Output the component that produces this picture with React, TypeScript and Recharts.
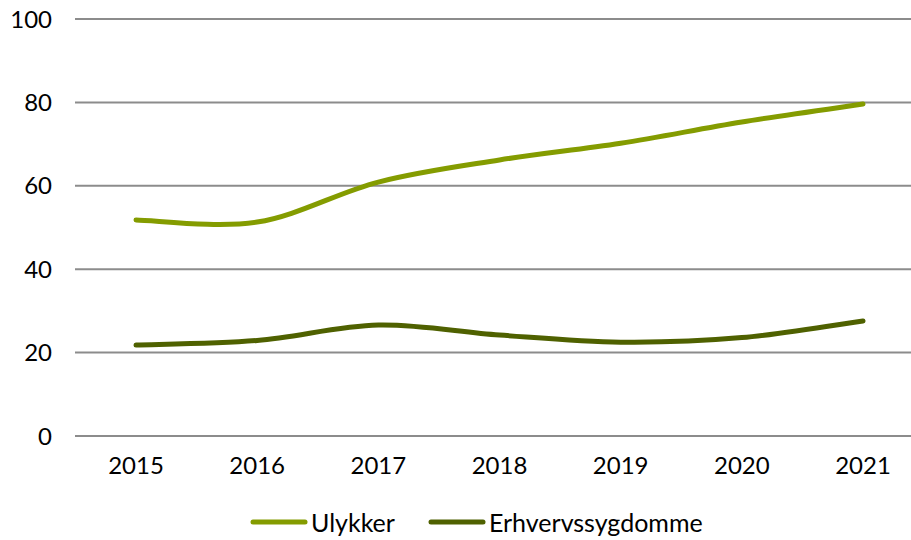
import React from "react";
import { LineChart, Line, XAxis, YAxis, CartesianGrid, Legend } from "recharts";

const years = ["2015", "2016", "2017", "2018", "2019", "2020", "2021"];
const ulykker = [51.8, 51.3, 60.9, 66.2, 70.2, 75.3, 79.6];
const erhvervssygdomme = [21.8, 22.9, 26.6, 24.2, 22.5, 23.6, 27.6];
const yTicks = [0, 20, 40, 60, 80, 100];

const seriesNames = ["Ulykker", "Erhvervssygdomme"];
const seriesColors = ["#849c00", "#4f6100"];

const data = years.map((year, i) => ({
  year,
  ulykker: ulykker[i],
  erhvervssygdomme: erhvervssygdomme[i],
}));

const FONT = "Lato, 'Open Sans', sans-serif";

// Excel-style smoothed line (Catmull-Rom as cubic beziers)
class SmoothCurve {
  _context: any;
  _pts: number[][] = [];
  constructor(context: any) {
    this._context = context;
  }
  areaStart() {}
  areaEnd() {}
  lineStart() {
    this._pts = [];
  }
  point(x: number, y: number) {
    this._pts.push([+x, +y]);
  }
  lineEnd() {
    const p = this._pts;
    if (!p.length) return;
    const ctx = this._context;
    ctx.moveTo(p[0][0], p[0][1]);
    for (let i = 0; i < p.length - 1; i++) {
      const p0 = p[i - 1] || p[i];
      const p1 = p[i];
      const p2 = p[i + 1];
      const p3 = p[i + 2] || p[i + 1];
      ctx.bezierCurveTo(
        p1[0] + (p2[0] - p0[0]) / 6,
        p1[1] + (p2[1] - p0[1]) / 6,
        p2[0] - (p3[0] - p1[0]) / 6,
        p2[1] - (p3[1] - p1[1]) / 6,
        p2[0],
        p2[1]
      );
    }
  }
}

const smooth = (context: any) => new SmoothCurve(context);

function LegendContent() {
  return (
    <div style={{ display: "flex", alignItems: "center", fontFamily: FONT, fontSize: 25, color: "#000" }}>
      {seriesNames.map((name, i) => (
        <div key={name} style={{ display: "flex", alignItems: "center", marginRight: 33 }}>
          <svg width={58} height={10} style={{ marginRight: 3 }}>
            <line x1={3} y1={5} x2={55} y2={5} stroke={seriesColors[i]} strokeWidth={5} strokeLinecap="round" />
          </svg>
          <span>{name}</span>
        </div>
      ))}
    </div>
  );
}

export default function App() {
  return (
    <div style={{ position: "fixed", left: 0, top: 0, width: 911, height: 540, overflow: "hidden", background: "#fff" }}>
      <LineChart width={935} height={540} data={data} margin={{ top: 19, right: 11, left: 0, bottom: 14 }}>
        <CartesianGrid vertical={false} stroke="#8c8c8c" strokeWidth={2} />
        <XAxis
          dataKey="year"
          axisLine={false}
          tickLine={false}
          tickSize={0}
          tickMargin={21}
          height={60}
          padding={{ left: 61, right: 61 }}
          tick={{ fontSize: 24, fill: "#000", fontFamily: FONT }}
        />
        <YAxis
          domain={[0, 100]}
          ticks={yTicks}
          axisLine={false}
          tickLine={false}
          tickSize={0}
          tickMargin={23}
          width={75}
          tick={{ fontSize: 24, fill: "#000", fontFamily: FONT }}
        />
        <Legend
          verticalAlign="bottom"
          height={0}
          content={<LegendContent />}
          wrapperStyle={{ left: 250, top: 507, width: "auto" }}
        />
        <Line
          type={smooth as any}
          dataKey="ulykker"
          name={seriesNames[0]}
          stroke={seriesColors[0]}
          strokeWidth={5}
          strokeLinecap="round"
          dot={false}
          activeDot={false}
          isAnimationActive={false}
        />
        <Line
          type={smooth as any}
          dataKey="erhvervssygdomme"
          name={seriesNames[1]}
          stroke={seriesColors[1]}
          strokeWidth={5}
          strokeLinecap="round"
          dot={false}
          activeDot={false}
          isAnimationActive={false}
        />
      </LineChart>
    </div>
  );
}
